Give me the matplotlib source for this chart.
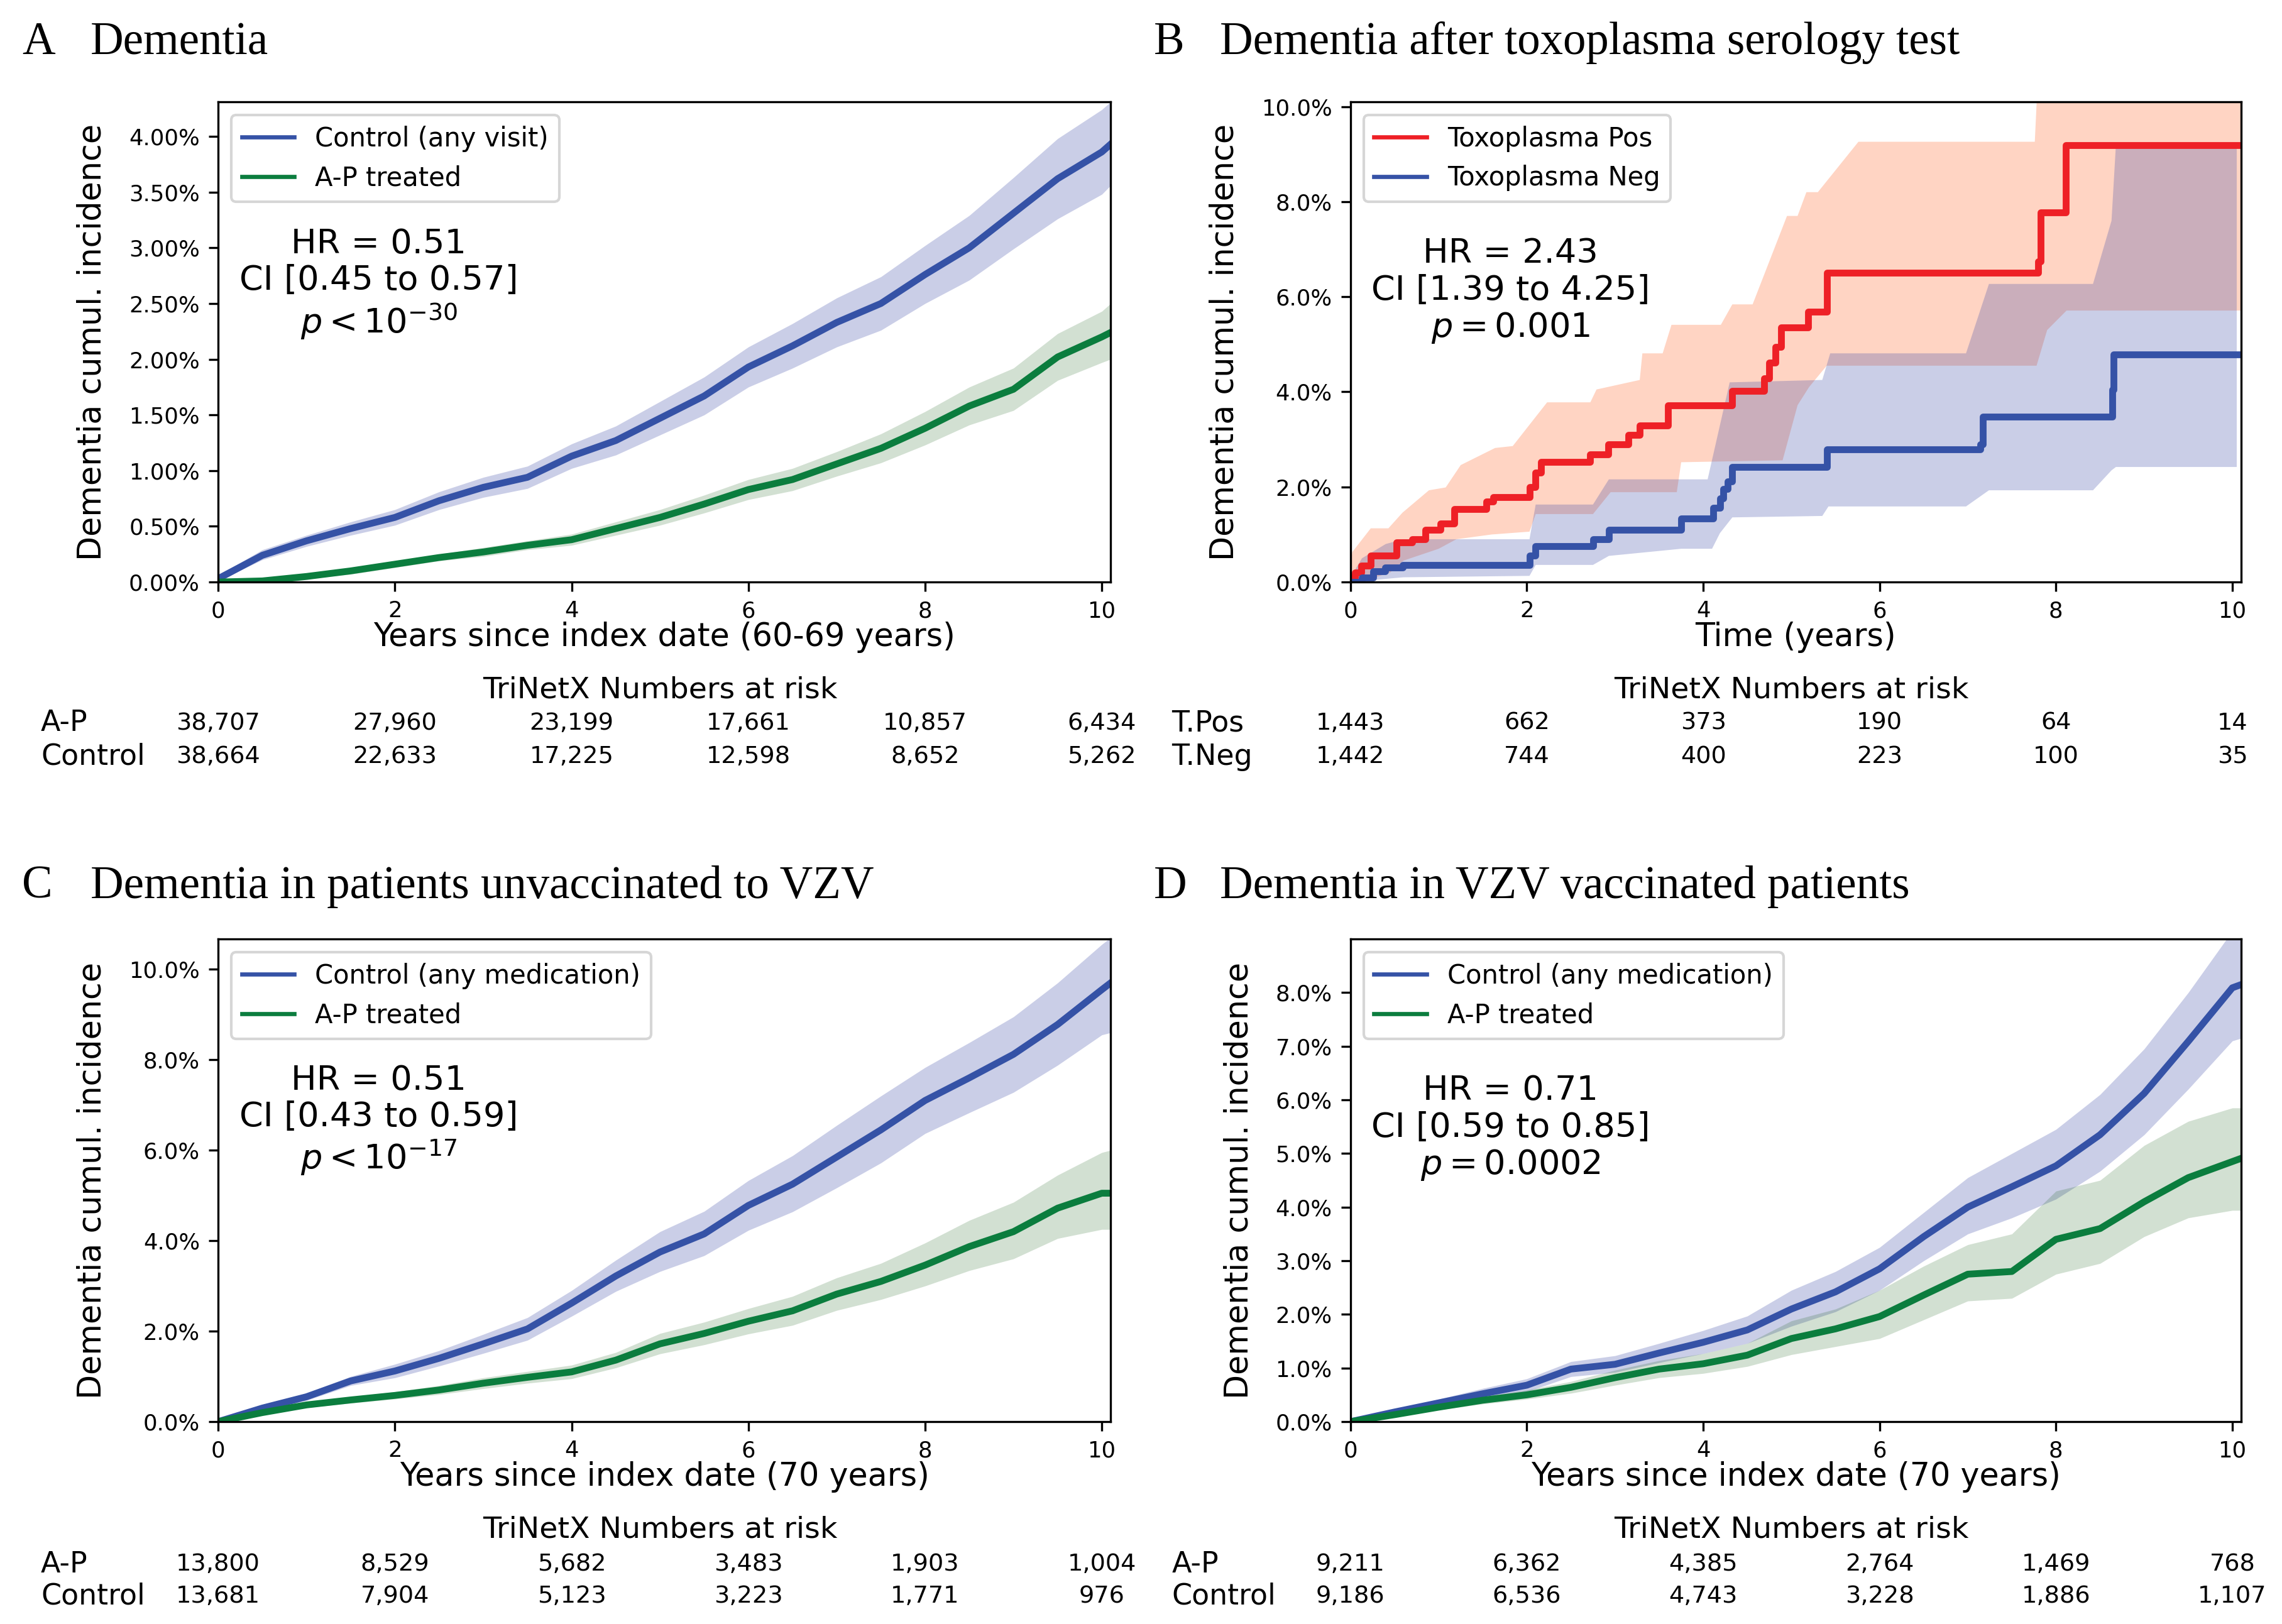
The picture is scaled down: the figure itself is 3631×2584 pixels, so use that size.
import matplotlib
matplotlib.use("Agg")
import matplotlib.pyplot as plt
from matplotlib.lines import Line2D
from matplotlib.ticker import PercentFormatter
from matplotlib.transforms import blended_transform_factory

# time grid (years) used by panels A, C and D
years = [0, 0.5, 1, 1.5, 2, 2.5, 3, 3.5, 4, 4.5, 5, 5.5, 6, 6.5, 7, 7.5, 8, 8.5, 9, 9.5, 10, 10.1]

# A: dementia, 60-69 years (cumulative incidence in %)
a_ctrl = [0.03, 0.24, 0.37, 0.48, 0.58, 0.73, 0.85, 0.94, 1.13, 1.27, 1.47, 1.67, 1.93, 2.12, 2.33, 2.50, 2.76, 3.00, 3.31, 3.62, 3.86, 3.93]
a_ctrl_hi = [0.06, 0.29, 0.42, 0.54, 0.65, 0.81, 0.94, 1.04, 1.24, 1.40, 1.62, 1.84, 2.11, 2.32, 2.55, 2.74, 3.02, 3.29, 3.63, 3.98, 4.24, 4.31]
a_ctrl_lo = [0.01, 0.20, 0.32, 0.42, 0.51, 0.65, 0.76, 0.84, 1.02, 1.14, 1.32, 1.50, 1.75, 1.92, 2.11, 2.26, 2.50, 2.71, 2.99, 3.26, 3.48, 3.56]
a_ap = [0.0, 0.01, 0.05, 0.10, 0.16, 0.22, 0.27, 0.33, 0.38, 0.48, 0.58, 0.70, 0.83, 0.92, 1.06, 1.20, 1.38, 1.58, 1.73, 2.02, 2.20, 2.24]
a_ap_hi = [0.01, 0.03, 0.07, 0.13, 0.19, 0.25, 0.31, 0.37, 0.43, 0.54, 0.65, 0.78, 0.92, 1.02, 1.17, 1.33, 1.53, 1.75, 1.92, 2.23, 2.43, 2.50]
a_ap_lo = [0.0, 0.0, 0.03, 0.07, 0.13, 0.19, 0.23, 0.29, 0.33, 0.42, 0.51, 0.62, 0.74, 0.82, 0.95, 1.07, 1.23, 1.41, 1.54, 1.81, 1.97, 2.00]

# B: toxoplasma serology, step curves
b_pos_t = [0, 0.02, 0.05, 0.12, 0.23, 0.52, 0.70, 0.85, 1.02, 1.18, 1.54, 1.62, 2.03, 2.10, 2.16, 2.72, 2.92, 3.15, 3.28, 3.60, 4.33, 4.69, 4.75, 4.82, 4.88, 5.19, 5.40, 7.80, 7.83, 8.11, 10.1]
b_pos = [0.0, 0.10, 0.20, 0.35, 0.56, 0.83, 0.90, 1.10, 1.23, 1.53, 1.69, 1.79, 2.00, 2.30, 2.52, 2.69, 2.89, 3.09, 3.29, 3.72, 4.02, 4.28, 4.61, 4.95, 5.35, 5.68, 6.50, 6.74, 7.77, 9.19, 9.19]
b_neg_t = [0, 0.13, 0.26, 0.39, 0.59, 2.03, 2.10, 2.75, 2.93, 3.75, 4.11, 4.19, 4.23, 4.28, 4.33, 5.40, 7.14, 7.17, 8.64, 8.65, 10.1]
b_neg = [0.0, 0.10, 0.23, 0.30, 0.36, 0.56, 0.76, 0.90, 1.10, 1.33, 1.56, 1.76, 1.96, 2.12, 2.42, 2.79, 2.89, 3.48, 4.05, 4.78, 4.78]
b_pos_hi_t = [0, 0.02, 0.23, 0.43, 0.59, 0.89, 1.08, 1.25, 1.64, 1.84, 2.23, 2.72, 2.79, 3.28, 3.31, 3.54, 3.64, 4.20, 4.33, 4.56, 4.95, 5.07, 5.17, 5.30, 5.76, 7.76, 7.83, 10.1]
b_pos_hi = [0.3, 0.63, 1.13, 1.13, 1.46, 1.93, 1.99, 2.46, 2.82, 2.86, 3.78, 3.78, 4.05, 4.25, 4.81, 4.81, 5.41, 5.41, 5.84, 5.84, 7.70, 7.70, 8.20, 8.20, 9.26, 9.26, 12.0, 12.0]
b_pos_lo_t = [0, 0.2, 0.45, 0.6, 1.0, 1.2, 1.6, 2.03, 2.1, 2.75, 2.95, 3.7, 3.75, 4.9, 5.07, 5.2, 5.4, 7.78, 7.9, 8.12, 10.1]
b_pos_lo = [0.0, 0.05, 0.2, 0.45, 0.7, 0.9, 1.0, 1.06, 1.43, 1.43, 1.89, 1.89, 2.52, 2.56, 3.72, 4.1, 4.55, 4.55, 5.3, 5.71, 5.71]
b_neg_hi_t = [0, 0.13, 0.4, 0.6, 2.03, 2.1, 2.75, 2.93, 4.05, 4.3, 5.35, 5.44, 6.98, 7.24, 8.42, 8.63, 8.68, 10.05]
b_neg_hi = [0.1, 0.5, 0.8, 0.9, 0.9, 1.63, 1.63, 2.16, 2.16, 4.2, 4.25, 4.81, 4.81, 6.27, 6.27, 7.6, 9.2, 9.2]
b_neg_lo_t = [0, 0.6, 2.03, 2.1, 2.75, 2.93, 3.75, 4.1, 4.19, 4.33, 5.35, 5.42, 6.98, 7.24, 8.42, 8.63, 8.68, 10.05]
b_neg_lo = [0.0, 0.1, 0.13, 0.36, 0.36, 0.55, 0.7, 0.7, 1.03, 1.36, 1.39, 1.59, 1.59, 1.93, 1.93, 2.35, 2.42, 2.42]

# C: unvaccinated to VZV
c_ctrl = [0.0, 0.30, 0.55, 0.90, 1.12, 1.40, 1.72, 2.05, 2.62, 3.22, 3.75, 4.15, 4.78, 5.25, 5.85, 6.45, 7.10, 7.60, 8.12, 8.78, 9.55, 9.70]
c_ctrl_hi = [0.02, 0.36, 0.63, 1.00, 1.27, 1.57, 1.93, 2.30, 2.90, 3.57, 4.20, 4.65, 5.33, 5.88, 6.55, 7.20, 7.83, 8.38, 8.95, 9.70, 10.55, 10.70]
c_ctrl_lo = [0.0, 0.24, 0.47, 0.80, 0.97, 1.23, 1.51, 1.80, 2.33, 2.88, 3.32, 3.67, 4.23, 4.64, 5.17, 5.72, 6.37, 6.83, 7.28, 7.88, 8.55, 8.60]
c_ap = [0.0, 0.20, 0.37, 0.48, 0.58, 0.70, 0.85, 0.98, 1.10, 1.36, 1.72, 1.95, 2.22, 2.45, 2.82, 3.10, 3.46, 3.87, 4.20, 4.72, 5.05, 5.05]
c_ap_hi = [0.01, 0.24, 0.43, 0.55, 0.66, 0.80, 0.97, 1.11, 1.25, 1.53, 1.95, 2.20, 2.50, 2.77, 3.18, 3.50, 3.95, 4.45, 4.85, 5.45, 5.95, 6.00]
c_ap_lo = [0.0, 0.16, 0.31, 0.41, 0.50, 0.60, 0.73, 0.85, 0.95, 1.19, 1.50, 1.70, 1.94, 2.13, 2.46, 2.70, 3.00, 3.34, 3.60, 4.05, 4.25, 4.25]

# D: VZV vaccinated
d_ctrl = [0.0, 0.18, 0.35, 0.52, 0.68, 0.98, 1.07, 1.28, 1.48, 1.71, 2.10, 2.42, 2.85, 3.45, 4.00, 4.38, 4.77, 5.35, 6.12, 7.09, 8.09, 8.15]
d_ctrl_hi = [0.01, 0.22, 0.42, 0.62, 0.80, 1.12, 1.23, 1.46, 1.70, 1.97, 2.45, 2.80, 3.25, 3.90, 4.55, 5.00, 5.45, 6.10, 6.95, 8.00, 9.15, 9.50]
d_ctrl_lo = [0.0, 0.14, 0.28, 0.42, 0.56, 0.84, 0.92, 1.10, 1.27, 1.46, 1.78, 2.05, 2.45, 3.00, 3.50, 3.80, 4.15, 4.67, 5.35, 6.20, 7.10, 7.15]
d_ap = [0.0, 0.13, 0.27, 0.40, 0.50, 0.64, 0.82, 0.98, 1.08, 1.24, 1.55, 1.73, 1.96, 2.36, 2.75, 2.80, 3.40, 3.60, 4.10, 4.55, 4.85, 4.91]
d_ap_hi = [0.01, 0.16, 0.32, 0.47, 0.59, 0.75, 0.96, 1.14, 1.27, 1.46, 1.88, 2.10, 2.45, 2.90, 3.30, 3.50, 4.30, 4.50, 5.15, 5.60, 5.85, 5.85]
d_ap_lo = [0.0, 0.10, 0.22, 0.33, 0.42, 0.53, 0.68, 0.82, 0.90, 1.03, 1.25, 1.40, 1.55, 1.90, 2.25, 2.30, 2.75, 2.95, 3.45, 3.80, 3.94, 3.94]

# numbers at risk
risk_years = [0, 2, 4, 6, 8, 10]
a_risk_ap = [38707, 27960, 23199, 17661, 10857, 6434]
a_risk_ctrl = [38664, 22633, 17225, 12598, 8652, 5262]
b_risk_pos = [1443, 662, 373, 190, 64, 14]
b_risk_neg = [1442, 744, 400, 223, 100, 35]
c_risk_ap = [13800, 8529, 5682, 3483, 1903, 1004]
c_risk_ctrl = [13681, 7904, 5123, 3223, 1771, 976]
d_risk_ap = [9211, 6362, 4385, 2764, 1469, 768]
d_risk_ctrl = [9186, 6536, 4743, 3228, 1886, 1107]

BLUE = '#3552a6'
GREEN = '#0b7d3e'
RED = '#ee2026'
BLUE_BAND = '#3d4aa8'
GREEN_BAND = '#1e641e'

fig = plt.figure(figsize=(3631 / 300, 2584 / 300), dpi=300)


def style_axes(ax, ymax, yticks, decimals, xlabel):
    ax.set_xlim(0, 10.1)
    ax.set_ylim(0, ymax)
    ax.set_xticks(risk_years)
    ax.set_yticks(yticks)
    ax.yaxis.set_major_formatter(PercentFormatter(xmax=100, decimals=decimals))
    ax.tick_params(labelsize=8.5)
    ax.set_xlabel(xlabel, fontsize=12.2, labelpad=0)
    ax.set_ylabel('Dementia cumul. incidence', fontsize=12.2, labelpad=8)


def stats_text(ax, hr, ci, p, y):
    ax.text(0.18, y, f"HR = {hr}\nCI [{ci}]\n{p}", transform=ax.transAxes,
            ha='center', va='center', fontsize=13, linespacing=1.15)


def legend(ax, labels, colors):
    handles = [Line2D([], [], color=c, lw=1.6) for c in colors]
    ax.legend(handles, labels, loc='upper left', fontsize=10)


def risk_table(ax, labels, rows, ys, label_x):
    trans = blended_transform_factory(ax.transData, fig.transFigure)
    ax.text(5, ys[0], 'TriNetX Numbers at risk', transform=trans,
            ha='center', va='center', fontsize=11.4)
    for lab, row, y in zip(labels, rows, ys[1:]):
        fig.text(label_x, y, lab, ha='left', va='center', fontsize=11)
        for t, n in zip(risk_years, row):
            ax.text(t, y, f"{n:,}", transform=trans, ha='center', va='center', fontsize=9.2)


def title(x_letter, x_text, y, letter, text):
    fig.text(x_letter, y, letter, family='Liberation Serif', fontsize=17.5, va='baseline')
    fig.text(x_text, y, text, family='Liberation Serif', fontsize=17.5, va='baseline')


def two_groups(ax, ctrl, ctrl_lo, ctrl_hi, ap, ap_lo, ap_hi):
    ax.fill_between(years, ctrl_lo, ctrl_hi, color=BLUE_BAND, alpha=0.27, lw=0)
    ax.fill_between(years, ap_lo, ap_hi, color=GREEN_BAND, alpha=0.2, lw=0)
    ax.plot(years, ctrl, color=BLUE, lw=2.6)
    ax.plot(years, ap, color=GREEN, lw=2.6)


# panel A
axA = fig.add_axes([0.0956, 0.6416, 0.3911, 0.2957])
two_groups(axA, a_ctrl, a_ctrl_lo, a_ctrl_hi, a_ap, a_ap_lo, a_ap_hi)
style_axes(axA, 4.31, [0, 0.5, 1, 1.5, 2, 2.5, 3, 3.5, 4], 2, 'Years since index date (60-69 years)')
legend(axA, ['Control (any visit)', 'A-P treated'], [BLUE, GREEN])
stats_text(axA, '0.51', '0.45 to 0.57', r'$p < 10^{-30}$', 0.62)
risk_table(axA, ['A-P', 'Control'], [a_risk_ap, a_risk_ctrl], [0.575, 0.5546, 0.534], 0.0179)
title(0.0096, 0.0397, 0.9667, 'A', 'Dementia')

# panel B
axB = fig.add_axes([0.5918, 0.6416, 0.3903, 0.2957])
axB.fill(b_pos_hi_t + b_pos_lo_t[::-1], b_pos_hi + b_pos_lo[::-1], color='lightsalmon', alpha=0.45, lw=0)
axB.fill(b_neg_hi_t + b_neg_lo_t[::-1], b_neg_hi + b_neg_lo[::-1], color=BLUE_BAND, alpha=0.27, lw=0)
axB.plot(b_pos_t, b_pos, color=RED, lw=2.6, drawstyle='steps-post')
axB.plot(b_neg_t, b_neg, color=BLUE, lw=2.6, drawstyle='steps-post')
style_axes(axB, 10.1, [0, 2, 4, 6, 8, 10], 1, 'Time (years)')
legend(axB, ['Toxoplasma Pos', 'Toxoplasma Neg'], [RED, BLUE])
stats_text(axB, '2.43', '1.39 to 4.25', r'$p = 0.001$', 0.606)
risk_table(axB, ['T.Pos', 'T.Neg'], [b_risk_pos, b_risk_neg], [0.575, 0.5546, 0.534], 0.5134)
title(0.5057, 0.5345, 0.9667, 'B', 'Dementia after toxoplasma serology test')

# panel C
axC = fig.add_axes([0.0956, 0.1246, 0.3911, 0.2972])
two_groups(axC, c_ctrl, c_ctrl_lo, c_ctrl_hi, c_ap, c_ap_lo, c_ap_hi)
style_axes(axC, 10.67, [0, 2, 4, 6, 8, 10], 1, 'Years since index date (70 years)')
legend(axC, ['Control (any medication)', 'A-P treated'], [BLUE, GREEN])
stats_text(axC, '0.51', '0.43 to 0.59', r'$p < 10^{-17}$', 0.624)
risk_table(axC, ['A-P', 'Control'], [c_risk_ap, c_risk_ctrl], [0.058, 0.0367, 0.017], 0.0179)
title(0.0096, 0.0397, 0.447, 'C', 'Dementia in patients unvaccinated to VZV')

# panel D
axD = fig.add_axes([0.5918, 0.1246, 0.3903, 0.2972])
two_groups(axD, d_ctrl, d_ctrl_lo, d_ctrl_hi, d_ap, d_ap_lo, d_ap_hi)
style_axes(axD, 9.0, [0, 1, 2, 3, 4, 5, 6, 7, 8], 1, 'Years since index date (70 years)')
legend(axD, ['Control (any medication)', 'A-P treated'], [BLUE, GREEN])
stats_text(axD, '0.71', '0.59 to 0.85', r'$p = 0.0002$', 0.608)
risk_table(axD, ['A-P', 'Control'], [d_risk_ap, d_risk_ctrl], [0.058, 0.0367, 0.017], 0.5134)
title(0.5057, 0.5345, 0.447, 'D', 'Dementia in VZV vaccinated patients')

fig.savefig('out.png', dpi=300)
